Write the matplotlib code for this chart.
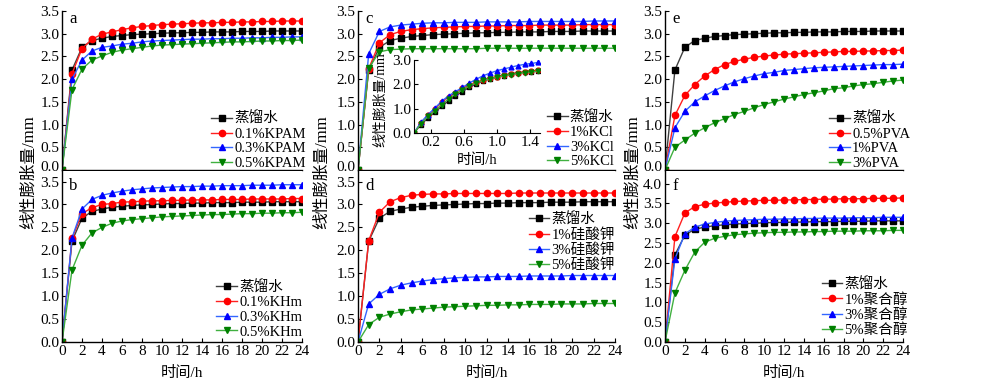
import numpy as np
import matplotlib
matplotlib.use('Agg')
import matplotlib.pyplot as plt
import matplotlib.transforms as mtransforms


# --------------------------------------------------------------------------------------------------

plt.rcParams['font.family'] = ['Liberation Serif', 'Noto Sans CJK SC']
plt.rcParams['axes.unicode_minus'] = False

# Time axis (h)
hours = np.arange(25)
inset_hours = np.arange(19) / 12.0

# Distilled water reference (same in all panels)
water = [0, 2.2, 2.7, 2.85, 2.9, 2.94, 2.96, 2.98, 2.99, 3.0, 3.01, 3.02, 3.02, 3.03, 3.03, 3.04,
         3.04, 3.04, 3.05, 3.05, 3.05, 3.06, 3.06, 3.06, 3.06]

# a: KPAM
kpam_01 = [0, 2.12, 2.67, 2.88, 2.99, 3.04, 3.09, 3.13, 3.16, 3.18, 3.2, 3.21, 3.22, 3.23, 3.24,
           3.24, 3.25, 3.25, 3.26, 3.26, 3.27, 3.27, 3.28, 3.28, 3.28]
kpam_03 = [0, 2.0, 2.42, 2.62, 2.7, 2.73, 2.77, 2.79, 2.82, 2.84, 2.85, 2.86, 2.87, 2.88, 2.88,
           2.89, 2.89, 2.9, 2.9, 2.91, 2.91, 2.92, 2.92, 2.93, 2.93]
kpam_05 = [0, 1.77, 2.22, 2.42, 2.51, 2.59, 2.64, 2.67, 2.7, 2.73, 2.75, 2.76, 2.77, 2.78, 2.79,
           2.8, 2.81, 2.82, 2.82, 2.83, 2.84, 2.84, 2.85, 2.85, 2.86]

# b: KHm
khm_01 = [0, 2.26, 2.8, 2.93, 3.0, 3.02, 3.05, 3.06, 3.07, 3.08, 3.08, 3.09, 3.09, 3.1, 3.1,
          3.1, 3.11, 3.11, 3.11, 3.12, 3.12, 3.12, 3.12, 3.13, 3.13]
khm_03 = [0, 2.27, 2.9, 3.11, 3.2, 3.25, 3.29, 3.32, 3.34, 3.36, 3.37, 3.38, 3.39, 3.39, 3.4,
          3.4, 3.41, 3.41, 3.41, 3.42, 3.42, 3.42, 3.43, 3.43, 3.43]
khm_05 = [0, 1.57, 2.11, 2.38, 2.5, 2.59, 2.64, 2.67, 2.69, 2.71, 2.73, 2.74, 2.75, 2.76, 2.77,
          2.78, 2.78, 2.79, 2.8, 2.8, 2.81, 2.81, 2.82, 2.82, 2.83]

# c: KCl
kcl_1 = [0, 2.23, 2.8, 2.98, 3.05, 3.09, 3.11, 3.13, 3.14, 3.15, 3.16, 3.16, 3.17, 3.17, 3.18,
         3.18, 3.18, 3.19, 3.19, 3.19, 3.19, 3.2, 3.2, 3.2, 3.2]
kcl_3 = [0, 2.56, 3.05, 3.15, 3.19, 3.21, 3.23, 3.24, 3.24, 3.25, 3.25, 3.25, 3.26, 3.26, 3.26,
         3.26, 3.27, 3.27, 3.27, 3.27, 3.27, 3.27, 3.28, 3.28, 3.28]
kcl_5 = [0, 2.24, 2.6, 2.65, 2.66, 2.67, 2.67, 2.67, 2.67, 2.67, 2.67, 2.67, 2.68, 2.68, 2.68,
         2.68, 2.68, 2.68, 2.68, 2.68, 2.68, 2.68, 2.68, 2.68, 2.68]

# c inset: first 1.5 h
inset_water = [0, 0.34, 0.61, 0.85, 1.09, 1.32, 1.53, 1.7, 1.88, 2.02, 2.14, 2.22, 2.29, 2.36,
               2.41, 2.46, 2.5, 2.52, 2.55]
inset_kcl_1 = [0, 0.41, 0.72, 0.98, 1.26, 1.5, 1.66, 1.83, 1.98, 2.09, 2.18, 2.25, 2.32, 2.39,
               2.44, 2.48, 2.52, 2.55, 2.58]
inset_kcl_3 = [0, 0.44, 0.75, 1.02, 1.3, 1.53, 1.7, 1.87, 2.05, 2.21, 2.35, 2.46, 2.56, 2.63,
               2.7, 2.77, 2.82, 2.86, 2.9]
inset_kcl_5 = [0, 0.38, 0.68, 0.91, 1.16, 1.4, 1.6, 1.77, 1.94, 2.06, 2.16, 2.22, 2.29, 2.35,
               2.4, 2.44, 2.48, 2.51, 2.54]

# d: potassium silicate
sil_1 = [0, 2.21, 2.83, 3.06, 3.15, 3.2, 3.22, 3.23, 3.23, 3.24, 3.24, 3.24, 3.24, 3.24, 3.24,
         3.25, 3.25, 3.25, 3.25, 3.25, 3.25, 3.25, 3.25, 3.25, 3.25]
sil_3 = [0, 0.83, 1.04, 1.16, 1.24, 1.29, 1.33, 1.36, 1.38, 1.4, 1.41, 1.42, 1.42, 1.43, 1.43,
         1.43, 1.44, 1.44, 1.44, 1.44, 1.45, 1.45, 1.45, 1.45, 1.45]
sil_5 = [0, 0.38, 0.54, 0.61, 0.66, 0.7, 0.72, 0.74, 0.76, 0.77, 0.78, 0.79, 0.8, 0.8, 0.81,
         0.81, 0.82, 0.82, 0.82, 0.83, 0.83, 0.83, 0.84, 0.84, 0.84]

# e: PVA
pva_05 = [0, 1.2, 1.64, 1.88, 2.07, 2.21, 2.32, 2.39, 2.44, 2.48, 2.51, 2.53, 2.55, 2.56, 2.57,
          2.58, 2.59, 2.6, 2.61, 2.61, 2.62, 2.62, 2.63, 2.63, 2.64]
pva_1 = [0, 0.93, 1.29, 1.5, 1.63, 1.75, 1.85, 1.94, 2.01, 2.07, 2.12, 2.15, 2.19, 2.21, 2.23,
         2.25, 2.26, 2.27, 2.28, 2.29, 2.3, 2.31, 2.32, 2.32, 2.33]
pva_3 = [0, 0.5, 0.66, 0.81, 0.93, 1.04, 1.13, 1.22, 1.29, 1.37, 1.44, 1.5, 1.56, 1.61, 1.66,
         1.7, 1.74, 1.79, 1.81, 1.85, 1.88, 1.9, 1.93, 1.96, 1.98]

# f: polyol
pol_1 = [0, 2.66, 3.26, 3.42, 3.48, 3.51, 3.53, 3.55, 3.56, 3.57, 3.58, 3.58, 3.59, 3.59, 3.6,
         3.6, 3.61, 3.61, 3.62, 3.62, 3.62, 3.63, 3.63, 3.63, 3.64]
pol_3 = [0, 2.1, 2.73, 2.9, 2.98, 3.02, 3.05, 3.07, 3.08, 3.09, 3.1, 3.1, 3.11, 3.11, 3.12,
         3.12, 3.13, 3.13, 3.13, 3.14, 3.14, 3.14, 3.15, 3.15, 3.15]
pol_5 = [0, 1.24, 1.81, 2.27, 2.52, 2.62, 2.67, 2.71, 2.73, 2.75, 2.76, 2.77, 2.77, 2.78, 2.78,
         2.79, 2.79, 2.8, 2.8, 2.8, 2.81, 2.81, 2.81, 2.82, 2.82]

# Series styles: (marker, line colour, marker colour)
styles = [('s', '#404040', '#000000'),
          ('o', '#ff2020', '#ff0000'),
          ('^', '#3366ff', '#0000ff'),
          ('v', '#40b040', '#008000')]

W, H = 1000, 388
fig = plt.figure(figsize=(W / 100, H / 100), dpi=100)


# --------------------------------------------------------------------------------------------------


def px_axes(x0, y0, x1, y1):
    return fig.add_axes([x0 / W, 1 - y1 / H, (x1 - x0) / W, (y1 - y0) / H])


def style_axes(ax, ymax, yticks, bottom_labels, fs=11):
    for side in ['top', 'right']:
        ax.spines[side].set_visible(False)
    for side in ['left', 'bottom']:
        ax.spines[side].set_linewidth(1.0)
    ax.set_ylim(0, ymax)
    ax.set_yticks(yticks)
    ax.set_yticklabels(['%.1f' % v for v in yticks])
    ax.tick_params(axis='y', direction='in', length=3, pad=2, labelsize=fs)
    ax.set_xlim(0, 24)
    if bottom_labels:
        ax.set_xticks(np.arange(0, 25, 2))
        ax.tick_params(axis='x', direction='in', length=3, pad=2, labelsize=fs)
    else:
        ax.set_xticks([])
        # lift the 0.0 label a little, as in the original
        lift = mtransforms.ScaledTranslation(0, 3 / 72, fig.dpi_scale_trans)
        lab0 = ax.get_yticklabels()[0]
        lab0.set_transform(lab0.get_transform() + lift)


def draw_series(ax, x, series, labels, ms=4.5):
    for y, lab, (mk, lc, mc) in zip(series, labels, styles):
        ax.plot(x, y, color=lc, lw=1.0, marker=mk, ms=ms, mfc=mc, mec=mc, label=lab)


def add_legend(ax, anchor):
    ax.legend(loc='lower right', bbox_to_anchor=anchor, frameon=False, fontsize=10.5,
              handlelength=1.4, handletextpad=0.15, labelspacing=0.1, borderpad=0.0,
              borderaxespad=0.0)


# Panel layout (pixels)
# ---------------------
cols = [(62, 302), (358, 615), (665, 903)]
top_row = (11, 170)
bot_row = (171, 342)

panels = [
    ('a', 0, top_row, 3.5, np.arange(0, 3.51, 0.5), [water, kpam_01, kpam_03, kpam_05],
     ['蒸馏水', '0.1%KPAM', '0.3%KPAM', '0.5%KPAM'], (1.015, 0.0)),
    ('b', 0, bot_row, 3.73, np.arange(0, 3.51, 0.5), [water, khm_01, khm_03, khm_05],
     ['蒸馏水', '0.1%KHm', '0.3%KHm', '0.5%KHm'], (1.0, 0.02)),
    ('c', 1, top_row, 3.5, np.arange(0, 3.51, 0.5), [water, kcl_1, kcl_3, kcl_5],
     ['蒸馏水', '1%KCl', '3%KCl', '5%KCl'], (0.995, 0.01)),
    ('d', 1, bot_row, 3.73, np.arange(0, 3.51, 0.5), [water, sil_1, sil_3, sil_5],
     ['蒸馏水', '1%硅酸钾', '3%硅酸钾', '5%硅酸钾'], (1.0, 0.41)),
    ('e', 2, top_row, 3.5, np.arange(0, 3.51, 0.5), [water, pva_05, pva_1, pva_3],
     ['蒸馏水', '0.5%PVA', '1%PVA', '3%PVA'], (1.03, 0.0)),
    ('f', 2, bot_row, 4.32, np.arange(0, 4.01, 0.5), [water, pol_1, pol_3, pol_5],
     ['蒸馏水', '1%聚合醇', '3%聚合醇', '5%聚合醇'], (1.02, 0.03)),
]

for letter, col, row, ymax, yticks, series, labels, anchor in panels:
    x0, x1 = cols[col]
    ax = px_axes(x0, row[0], x1, row[1])
    draw_series(ax, hours, series, labels)
    style_axes(ax, ymax, yticks, row is bot_row)
    ax.text(0.03, 1.0 if row is top_row else 0.96, letter, transform=ax.transAxes,
            ha='left', va='top', fontsize=12)
    add_legend(ax, anchor)
    if row is bot_row:
        fig.text((x0 + x1) / 2 / W, 1 - 373 / H, '时间/h', ha='center', va='center', fontsize=11)

# Shared y labels
# ---------------
for xc in [29, 322, 633]:
    fig.text(xc / W, 1 - 172 / H, '线性膨胀量/mm', rotation=90, ha='center', va='center',
             fontsize=12)

# Inset in panel c
# ----------------
axi = px_axes(414, 60, 540, 133)
axi.set_facecolor('white')
draw_series(axi, inset_hours, [inset_water, inset_kcl_1, inset_kcl_3, inset_kcl_5],
            ['', '', '', ''], ms=3.5)
for side in ['top', 'right']:
    axi.spines[side].set_visible(False)
axi.set_xlim(0, 1.52)
axi.set_ylim(0, 3.0)
axi.set_xticks([0.2, 0.6, 1.0, 1.4])
axi.set_xticklabels(['0.2', '0.6', '1.0', '1.4'])
axi.set_yticks([0, 1, 2, 3])
axi.set_yticklabels(['0.0', '1.0', '2.0', '3.0'])
axi.tick_params(direction='in', length=3, pad=2, labelsize=11)
fig.text(477 / W, 1 - 160 / H, '时间/h', ha='center', va='center', fontsize=10.5)
fig.text(380 / W, 1 - 100 / H, '线性膨胀量/mm', rotation=90, ha='center', va='center',
         fontsize=10)

# Save figure
# -----------
fig.savefig('out.png', dpi=100)
plt.close('all')
